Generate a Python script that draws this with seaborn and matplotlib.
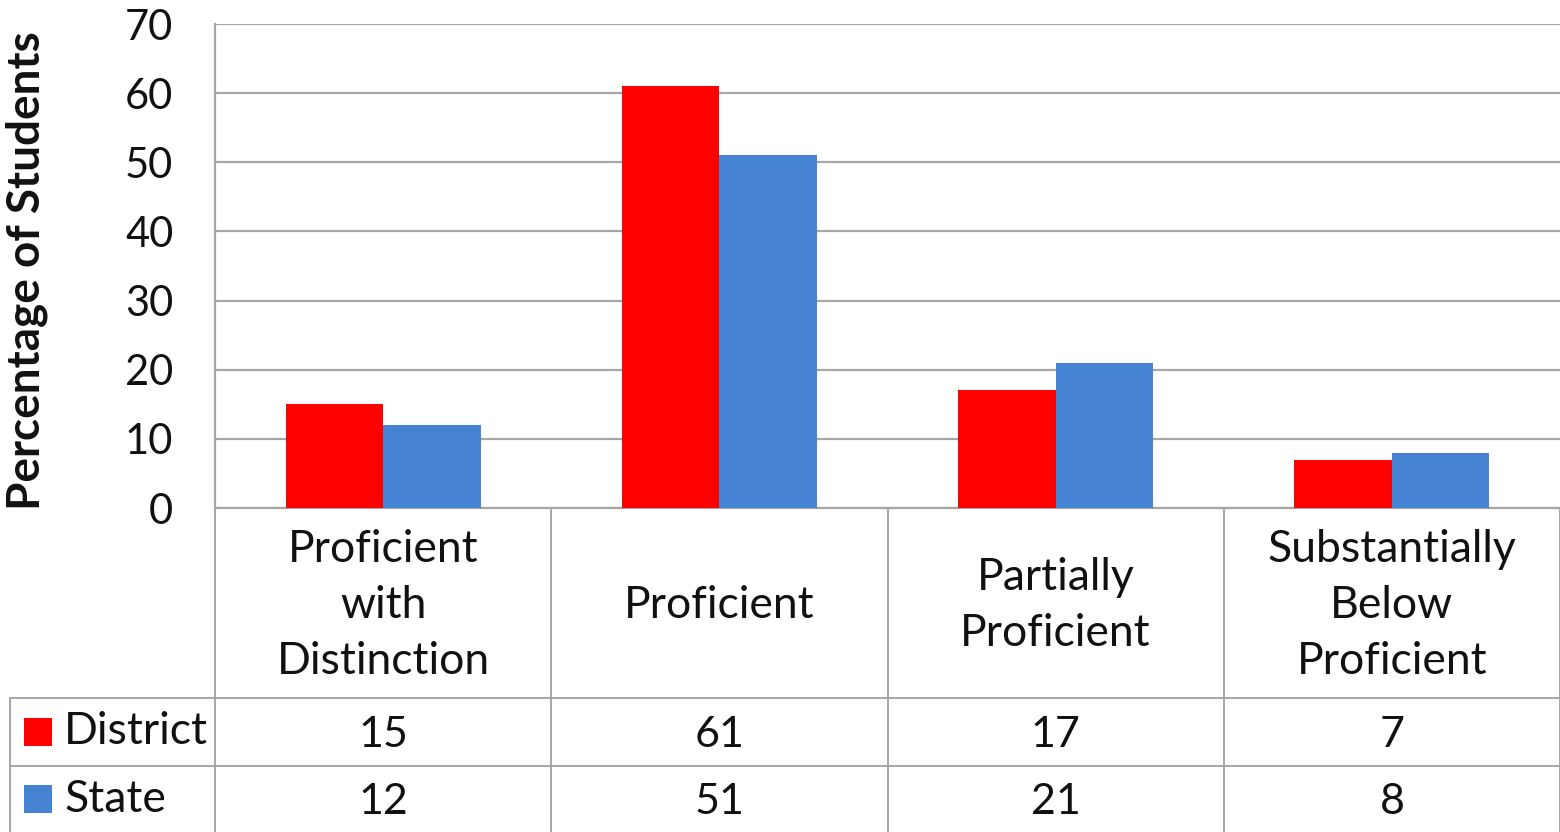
import matplotlib
matplotlib.use("Agg")
import matplotlib.pyplot as plt
import matplotlib.transforms as mtransforms
from matplotlib.lines import Line2D
from matplotlib.patches import Rectangle
import pandas as pd
import seaborn as sns

# Achievement levels and the share of students in each
categories = ["Proficient\nwith\nDistinction", "Proficient",
              "Partially\nProficient", "Substantially\nBelow\nProficient"]
series_names = ["District", "State"]
district = [15, 61, 17, 7]
state = [12, 51, 21, 8]
y_ticks = [0, 10, 20, 30, 40, 50, 60, 70]
colors = ["#FF0000", "#4683D3"]
grid_color = "#A6A6A6"

df = pd.DataFrame({
    "Level": categories * 2,
    "Series": [series_names[0]] * 4 + [series_names[1]] * 4,
    "Value": district + state,
})

sns.set_theme(style="white")
plt.rcParams["font.family"] = ["Lato", "DejaVu Sans"]

W, H = 1560, 832
fig = plt.figure(figsize=(W / 100, H / 100), dpi=100)
ax = fig.add_axes([215 / W, 1 - 508 / H, (W - 215) / W, (508 - 24) / H])

sns.barplot(data=df, x="Level", y="Value", hue="Series", palette=colors,
            width=0.58, saturation=1, legend=False, ax=ax, zorder=3)
for p in ax.patches:
    p.set_edgecolor("none")

ax.set_xlim(-0.5, 3.5)
ax.set_ylim(0, 70)
ax.set_yticks(y_ticks)
ax.set_yticklabels([str(t) for t in y_ticks], fontsize=30, color="#111111")
ax.tick_params(axis="y", length=0, pad=30)
ax.set_xticks([])
ax.set_xlabel("")
ax.set_ylabel("Percentage of Students", fontsize=33, fontweight="bold",
              color="#111111")
ax.yaxis.set_label_coords(-0.124, 0.49)
ax.yaxis.grid(True, color=grid_color, linewidth=1.6, zorder=0)
for side in ["top", "right"]:
    ax.spines[side].set_visible(False)
ax.spines["left"].set_color(grid_color)
ax.spines["left"].set_linewidth(1.6)
ax.spines["bottom"].set_color(grid_color)
ax.spines["bottom"].set_linewidth(1.6)

# Data table beneath the plot: x in data units, y in figure fraction
tr = mtransforms.blended_transform_factory(ax.transData, fig.transFigure)
y_axis = 1 - 508 / H
y_row1 = 1 - 698 / H
y_row2 = 1 - 766 / H
y_bot = 0.0
lw = 1.4

def hline(x0, x1, y):
    fig.add_artist(Line2D([x0, x1], [y, y], transform=fig.transFigure,
                          color=grid_color, linewidth=lw))

def vline_data(x, y0, y1):
    fig.add_artist(Line2D([x, x], [y0, y1], transform=tr,
                          color=grid_color, linewidth=lw, clip_on=False))

for i in range(5):
    vline_data(i - 0.5, y_bot, y_axis)
hline(10 / W, 1.0, y_row1)
hline(10 / W, 1.0, y_row2)
fig.add_artist(Line2D([10 / W, 10 / W], [y_bot, y_row1], transform=fig.transFigure,
                      color=grid_color, linewidth=lw))

for i, cat in enumerate(categories):
    fig.text(i, (y_axis + y_row1) / 2 - 0.003, cat, transform=tr, ha="center",
             va="center", fontsize=32, color="#111111", linespacing=1.45)

for row_y, name, vals, col in [((y_row1 + y_row2) / 2, series_names[0], district, colors[0]),
                               ((y_row2 + y_bot) / 2, series_names[1], state, colors[1])]:
    for i, v in enumerate(vals):
        fig.text(i, row_y - 0.004, str(v), transform=tr, ha="center",
                 va="center", fontsize=31, color="#111111")
    fig.add_artist(Rectangle((24 / W, row_y - 14 / H), 28 / W, 28 / H,
                             transform=fig.transFigure, facecolor=col,
                             edgecolor="none"))
    fig.text(64 / W, row_y, name, ha="left", va="center", fontsize=32,
             color="#111111")

fig.savefig("out.png", dpi=100)
